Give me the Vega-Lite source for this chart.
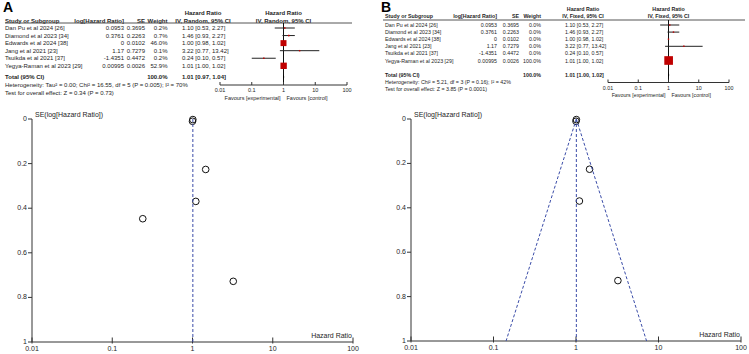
{
"$schema": "https://vega.github.io/schema/vega-lite/v6.json",
"width": 749, "height": 354, "autosize": {"type": "none"}, "padding": 0, "background": "#ffffff",
"config": {
 "view": {"stroke": null},
 "font": "Liberation Sans",
 "text": {"font": "Liberation Sans", "fontSize": 6, "color": "#1e1e1e", "baseline": "middle"},
 "tick": {"color": "#333333", "thickness": 1, "opacity": 1}
},
"datasets": {
 "studies": [
  {"study": "Dan Pu et al 2024 [26]", "lhr": 0.0953, "se": 0.3695, "wA": "0.2%", "wB": "0.0%", "pA": 0.2, "pB": 0.0, "hr": 1.10, "lo": 0.53, "hi": 2.27, "ci": "1.10 [0.53, 2.27]"},
  {"study": "Diamond et al 2023 [34]", "lhr": 0.3761, "se": 0.2263, "wA": "0.7%", "wB": "0.0%", "pA": 0.7, "pB": 0.0, "hr": 1.46, "lo": 0.93, "hi": 2.27, "ci": "1.46 [0.93, 2.27]"},
  {"study": "Edwards et al 2024 [38]", "lhr": 0, "se": 0.0102, "wA": "46.0%", "wB": "0.0%", "pA": 46.0, "pB": 0.0, "hr": 1.00, "lo": 0.98, "hi": 1.02, "ci": "1.00 [0.98, 1.02]"},
  {"study": "Jang et al 2021 [23]", "lhr": 1.17, "se": 0.7279, "wA": "0.1%", "wB": "0.0%", "pA": 0.1, "pB": 0.0, "hr": 3.22, "lo": 0.77, "hi": 13.42, "ci": "3.22 [0.77, 13.42]"},
  {"study": "Tsuikda et al 2021 [37]", "lhr": -1.4351, "se": 0.4472, "wA": "0.2%", "wB": "0.0%", "pA": 0.2, "pB": 0.0, "hr": 0.24, "lo": 0.10, "hi": 0.57, "ci": "0.24 [0.10, 0.57]"},
  {"study": "Yegya-Raman et al  2023 [29]", "lhr": 0.00995, "se": 0.0026, "wA": "52.9%", "wB": "100.0%", "pA": 52.9, "pB": 100.0, "hr": 1.01, "lo": 1.00, "hi": 1.02, "ci": "1.01 [1.00, 1.02]"}
 ],
 "totals": [
  {"panel": "A", "label": "Total (95% CI)", "weight": "100.0%", "ci": "1.01 [0.97, 1.04]", "hr": 1.01, "lo": 0.97, "hi": 1.04},
  {"panel": "B", "label": "Total (95% CI)", "weight": "100.0%", "ci": "1.01 [1.00, 1.02]", "hr": 1.01, "lo": 1.00, "hi": 1.02}
 ],
 "notes": [
  {"panel": "A", "row": "het", "t": "Heterogeneity: Tau² = 0.00; Chi² = 16.55, df = 5 (P = 0.005); I² = 70%"},
  {"panel": "A", "row": "test", "t": "Test for overall effect: Z = 0.34 (P = 0.73)"},
  {"panel": "B", "row": "het", "t": "Heterogeneity: Chi² = 5.21, df = 3 (P = 0.16); I² = 42%"},
  {"panel": "B", "row": "test", "t": "Test for overall effect: Z = 3.85 (P = 0.0001)"}
 ],
 "pooled": [{"hr": 1.01, "se0": 0, "se1": 1}],
 "funnelB": [{"x0": 1.01, "y0": 0, "x1": 0.142, "y1": 1}, {"x0": 1.01, "y0": 0, "x1": 7.17, "y1": 1}],
 "frame": [{"x0": 0.01, "x1": 0.01, "y0": 0, "y1": 1}, {"x0": 0.01, "x1": 100, "y0": 1, "y1": 1}],
 "baseline": [{"x0": 0.01, "x1": 100, "y": 1}],
 "hrTicks": [{"v": 0.01}, {"v": 0.1}, {"v": 1}, {"v": 10}, {"v": 100}],
 "seTicks": [{"v": 0}, {"v": 0.2}, {"v": 0.4}, {"v": 0.6}, {"v": 0.8}, {"v": 1}]
},
"layer": [
 {"data": {"values": [{"t": "A", "r": "title"}]}, "mark": {"type": "text", "fontSize": 14, "fontWeight": "bold", "align": "left", "color": "#000000", "dy": 3},
  "encoding": {"text": {"field": "t", "type": "nominal"},
   "x": {"datum": "study", "type": "nominal", "bandPosition": 0, "scale": {"type": "band", "domain": ["study"], "range": [3, 80], "paddingInner": 0, "paddingOuter": 0}, "axis": null},
   "y": {"field": "r", "type": "nominal", "scale": {"type": "point", "domain": ["title", "h1", "h2"], "range": [4.5, 20.5], "padding": 0}, "axis": null}}},
 {"data": {"values": [{"t": "Study or Subgroup", "r": "h2"}]}, "mark": {"type": "text", "fontWeight": "bold", "align": "left"},
  "encoding": {"text": {"field": "t", "type": "nominal"},
   "x": {"datum": "study", "type": "nominal", "bandPosition": 0, "scale": {"type": "band", "domain": ["study"], "range": [5, 80], "paddingInner": 0, "paddingOuter": 0}, "axis": null},
   "y": {"field": "r", "type": "nominal", "scale": {"type": "point", "domain": ["title", "h1", "h2"], "range": [4.5, 20.5], "padding": 0}, "axis": null}}},
 {"data": {"values": [{"t": "log[Hazard Ratio]", "r": "h2"}]}, "mark": {"type": "text", "fontWeight": "bold", "align": "right"},
  "encoding": {"text": {"field": "t", "type": "nominal"},
   "x": {"datum": "lhr", "type": "nominal", "bandPosition": 1, "scale": {"type": "band", "domain": ["lhr"], "range": [80, 124], "paddingInner": 0, "paddingOuter": 0}, "axis": null},
   "y": {"field": "r", "type": "nominal", "scale": {"type": "point", "domain": ["title", "h1", "h2"], "range": [4.5, 20.5], "padding": 0}, "axis": null}}},
 {"data": {"values": [{"t": "SE", "r": "h2"}]}, "mark": {"type": "text", "fontWeight": "bold", "align": "right"},
  "encoding": {"text": {"field": "t", "type": "nominal"},
   "x": {"datum": "se", "type": "nominal", "bandPosition": 1, "scale": {"type": "band", "domain": ["se"], "range": [124, 145], "paddingInner": 0, "paddingOuter": 0}, "axis": null},
   "y": {"field": "r", "type": "nominal", "scale": {"type": "point", "domain": ["title", "h1", "h2"], "range": [4.5, 20.5], "padding": 0}, "axis": null}}},
 {"data": {"values": [{"t": "Weight", "r": "h2"}]}, "mark": {"type": "text", "fontWeight": "bold", "align": "right"},
  "encoding": {"text": {"field": "t", "type": "nominal"},
   "x": {"datum": "weight", "type": "nominal", "bandPosition": 1, "scale": {"type": "band", "domain": ["weight"], "range": [145, 167.5], "paddingInner": 0, "paddingOuter": 0}, "axis": null},
   "y": {"field": "r", "type": "nominal", "scale": {"type": "point", "domain": ["title", "h1", "h2"], "range": [4.5, 20.5], "padding": 0}, "axis": null}}},
 {"data": {"values": [{"t": "Hazard Ratio", "r": "h1"}, {"t": "IV, Random, 95% CI", "r": "h2"}]}, "mark": {"type": "text", "fontWeight": "bold", "align": "center"},
  "encoding": {"text": {"field": "t", "type": "nominal"},
   "x": {"datum": "ci", "type": "nominal", "bandPosition": 0.5, "scale": {"type": "band", "domain": ["ci"], "range": [182, 224], "paddingInner": 0, "paddingOuter": 0}, "axis": null},
   "y": {"field": "r", "type": "nominal", "scale": {"type": "point", "domain": ["title", "h1", "h2"], "range": [4.5, 20.5], "padding": 0}, "axis": null}}},
 {"data": {"values": [{"t": "Hazard Ratio", "r": "h1"}, {"t": "IV, Random, 95% CI", "r": "h2"}]}, "mark": {"type": "text", "fontWeight": "bold", "align": "center"},
  "encoding": {"text": {"field": "t", "type": "nominal"},
   "x": {"datum": 1, "type": "quantitative", "scale": {"type": "log", "domain": [0.01, 100], "range": [220, 347], "nice": false}, "axis": null},
   "y": {"field": "r", "type": "nominal", "scale": {"type": "point", "domain": ["title", "h1", "h2"], "range": [4.5, 20.5], "padding": 0}, "axis": null}}},
 {"data": {"name": "studies"}, "mark": {"type": "text", "align": "left"},
  "encoding": {"text": {"field": "study", "type": "nominal"},
   "x": {"datum": "study", "type": "nominal", "bandPosition": 0, "scale": {"type": "band", "domain": ["study"], "range": [5, 80], "paddingInner": 0, "paddingOuter": 0}, "axis": null},
   "y": {"field": "study", "type": "nominal", "scale": {"type": "point", "domain": ["Dan Pu et al 2024 [26]", "Diamond et al 2023 [34]", "Edwards et al 2024 [38]", "Jang et al 2021 [23]", "Tsuikda et al 2021 [37]", "Yegya-Raman et al  2023 [29]"], "range": [28, 65.8], "padding": 0}, "axis": null}}},
 {"data": {"name": "studies"}, "mark": {"type": "text", "align": "right"},
  "encoding": {"text": {"field": "lhr", "type": "nominal"},
   "x": {"datum": "lhr", "type": "nominal", "bandPosition": 1, "scale": {"type": "band", "domain": ["lhr"], "range": [80, 124], "paddingInner": 0, "paddingOuter": 0}, "axis": null},
   "y": {"field": "study", "type": "nominal", "scale": {"type": "point", "domain": ["Dan Pu et al 2024 [26]", "Diamond et al 2023 [34]", "Edwards et al 2024 [38]", "Jang et al 2021 [23]", "Tsuikda et al 2021 [37]", "Yegya-Raman et al  2023 [29]"], "range": [28, 65.8], "padding": 0}, "axis": null}}},
 {"data": {"name": "studies"}, "mark": {"type": "text", "align": "right"},
  "encoding": {"text": {"field": "se", "type": "nominal"},
   "x": {"datum": "se", "type": "nominal", "bandPosition": 1, "scale": {"type": "band", "domain": ["se"], "range": [124, 145], "paddingInner": 0, "paddingOuter": 0}, "axis": null},
   "y": {"field": "study", "type": "nominal", "scale": {"type": "point", "domain": ["Dan Pu et al 2024 [26]", "Diamond et al 2023 [34]", "Edwards et al 2024 [38]", "Jang et al 2021 [23]", "Tsuikda et al 2021 [37]", "Yegya-Raman et al  2023 [29]"], "range": [28, 65.8], "padding": 0}, "axis": null}}},
 {"data": {"name": "studies"}, "mark": {"type": "text", "align": "right"},
  "encoding": {"text": {"field": "wA", "type": "nominal"},
   "x": {"datum": "weight", "type": "nominal", "bandPosition": 1, "scale": {"type": "band", "domain": ["weight"], "range": [145, 167.5], "paddingInner": 0, "paddingOuter": 0}, "axis": null},
   "y": {"field": "study", "type": "nominal", "scale": {"type": "point", "domain": ["Dan Pu et al 2024 [26]", "Diamond et al 2023 [34]", "Edwards et al 2024 [38]", "Jang et al 2021 [23]", "Tsuikda et al 2021 [37]", "Yegya-Raman et al  2023 [29]"], "range": [28, 65.8], "padding": 0}, "axis": null}}},
 {"data": {"name": "studies"}, "mark": {"type": "text", "align": "left"},
  "encoding": {"text": {"field": "ci", "type": "nominal"},
   "x": {"datum": "ci", "type": "nominal", "bandPosition": 0, "scale": {"type": "band", "domain": ["ci"], "range": [182, 224], "paddingInner": 0, "paddingOuter": 0}, "axis": null},
   "y": {"field": "study", "type": "nominal", "scale": {"type": "point", "domain": ["Dan Pu et al 2024 [26]", "Diamond et al 2023 [34]", "Edwards et al 2024 [38]", "Jang et al 2021 [23]", "Tsuikda et al 2021 [37]", "Yegya-Raman et al  2023 [29]"], "range": [28, 65.8], "padding": 0}, "axis": null}}},
 {"data": {"name": "totals"}, "transform": [{"filter": "datum.panel === 'A'"}], "mark": {"type": "text", "fontWeight": "bold", "align": "left"},
  "encoding": {"text": {"field": "label", "type": "nominal"},
   "x": {"datum": "study", "type": "nominal", "bandPosition": 0, "scale": {"type": "band", "domain": ["study"], "range": [5, 80], "paddingInner": 0, "paddingOuter": 0}, "axis": null},
   "y": {"datum": "tot", "type": "nominal", "scale": {"type": "point", "domain": ["tot", "het", "test"], "range": [77, 93], "padding": 0}, "axis": null}}},
 {"data": {"name": "totals"}, "transform": [{"filter": "datum.panel === 'A'"}], "mark": {"type": "text", "fontWeight": "bold", "align": "right"},
  "encoding": {"text": {"field": "weight", "type": "nominal"},
   "x": {"datum": "weight", "type": "nominal", "bandPosition": 1, "scale": {"type": "band", "domain": ["weight"], "range": [145, 167.5], "paddingInner": 0, "paddingOuter": 0}, "axis": null},
   "y": {"datum": "tot", "type": "nominal", "scale": {"type": "point", "domain": ["tot", "het", "test"], "range": [77, 93], "padding": 0}, "axis": null}}},
 {"data": {"name": "totals"}, "transform": [{"filter": "datum.panel === 'A'"}], "mark": {"type": "text", "fontWeight": "bold", "align": "left"},
  "encoding": {"text": {"field": "ci", "type": "nominal"},
   "x": {"datum": "ci", "type": "nominal", "bandPosition": 0, "scale": {"type": "band", "domain": ["ci"], "range": [182, 224], "paddingInner": 0, "paddingOuter": 0}, "axis": null},
   "y": {"datum": "tot", "type": "nominal", "scale": {"type": "point", "domain": ["tot", "het", "test"], "range": [77, 93], "padding": 0}, "axis": null}}},
 {"data": {"name": "notes"}, "transform": [{"filter": "datum.panel === 'A'"}], "mark": {"type": "text", "align": "left"},
  "encoding": {"text": {"field": "t", "type": "nominal"},
   "x": {"datum": "study", "type": "nominal", "bandPosition": 0, "scale": {"type": "band", "domain": ["study"], "range": [5, 80], "paddingInner": 0, "paddingOuter": 0}, "axis": null},
   "y": {"field": "row", "type": "nominal", "scale": {"type": "point", "domain": ["tot", "het", "test"], "range": [77, 93], "padding": 0}, "axis": null}}},
 {"data": {"values": [{"a": 0, "b": 1}]}, "mark": {"type": "rule", "color": "#555555", "strokeWidth": 1},
  "encoding": {"x": {"field": "a", "type": "quantitative", "scale": {"domain": [0, 1], "range": [5, 352], "nice": false, "zero": false}, "axis": null}, "x2": {"field": "b"},
   "y": {"field": "a", "type": "quantitative", "scale": {"domain": [0, 1], "range": [23, 85], "nice": false, "zero": false}, "axis": null}}},
 {"data": {"values": [{"hr": 1, "a": 0, "b": 1}]}, "mark": {"type": "rule", "color": "#111111", "strokeWidth": 1},
  "encoding": {"x": {"field": "hr", "type": "quantitative", "scale": {"type": "log", "domain": [0.01, 100], "range": [220, 347], "nice": false}, "axis": null},
   "y": {"field": "a", "type": "quantitative", "scale": {"domain": [0, 1], "range": [23, 85], "nice": false, "zero": false}, "axis": null}, "y2": {"field": "b"}}},
 {"data": {"name": "baseline"}, "mark": {"type": "rule", "color": "#333333", "strokeWidth": 1},
  "encoding": {"x": {"field": "x0", "type": "quantitative", "scale": {"type": "log", "domain": [0.01, 100], "range": [220, 347], "nice": false}, "axis": null}, "x2": {"field": "x1"},
   "y": {"field": "y", "type": "quantitative", "scale": {"domain": [0, 1], "range": [23, 85], "nice": false, "zero": false}, "axis": null}}},
 {"data": {"name": "hrTicks"}, "mark": {"type": "tick", "orient": "vertical", "size": 3, "yOffset": -1.5},
  "encoding": {"x": {"field": "v", "type": "quantitative", "scale": {"type": "log", "domain": [0.01, 100], "range": [220, 347], "nice": false}, "axis": null},
   "y": {"datum": 1, "type": "quantitative", "scale": {"domain": [0, 1], "range": [23, 85], "nice": false, "zero": false}, "axis": null}}},
 {"data": {"name": "hrTicks"}, "mark": {"type": "text", "align": "center", "dy": 5, "fontSize": 5.5},
  "encoding": {"text": {"field": "v", "type": "quantitative", "format": "~g"},
   "x": {"field": "v", "type": "quantitative", "scale": {"type": "log", "domain": [0.01, 100], "range": [220, 347], "nice": false}, "axis": null},
   "y": {"datum": 1, "type": "quantitative", "scale": {"domain": [0, 1], "range": [23, 85], "nice": false, "zero": false}, "axis": null}}},
 {"data": {"name": "studies"}, "mark": {"type": "rule", "color": "#222222", "strokeWidth": 1},
  "encoding": {"x": {"field": "lo", "type": "quantitative", "scale": {"type": "log", "domain": [0.01, 100], "range": [220, 347], "nice": false}, "axis": null}, "x2": {"field": "hi"},
   "y": {"field": "study", "type": "nominal", "scale": {"type": "point", "domain": ["Dan Pu et al 2024 [26]", "Diamond et al 2023 [34]", "Edwards et al 2024 [38]", "Jang et al 2021 [23]", "Tsuikda et al 2021 [37]", "Yegya-Raman et al  2023 [29]"], "range": [28, 65.8], "padding": 0}, "axis": null}}},
 {"data": {"name": "studies"}, "mark": {"type": "point", "shape": "square", "filled": true, "color": "#c00000", "opacity": 1},
  "encoding": {"x": {"field": "hr", "type": "quantitative", "scale": {"type": "log", "domain": [0.01, 100], "range": [220, 347], "nice": false}, "axis": null},
   "y": {"field": "study", "type": "nominal", "scale": {"type": "point", "domain": ["Dan Pu et al 2024 [26]", "Diamond et al 2023 [34]", "Edwards et al 2024 [38]", "Jang et al 2021 [23]", "Tsuikda et al 2021 [37]", "Yegya-Raman et al  2023 [29]"], "range": [28, 65.8], "padding": 0}, "axis": null},
   "size": {"field": "pA", "type": "quantitative", "scale": {"domain": [0, 100], "range": [2, 75], "zero": false}, "legend": null}}},
 {"data": {"name": "totals"}, "transform": [{"filter": "datum.panel === 'A'"}], "mark": {"type": "point", "shape": "M0,-1L0.18,0L0,1L-0.18,0Z", "filled": true, "color": "#000000", "size": 36, "opacity": 1},
  "encoding": {"x": {"field": "hr", "type": "quantitative", "scale": {"type": "log", "domain": [0.01, 100], "range": [220, 347], "nice": false}, "axis": null},
   "y": {"datum": "tot", "type": "nominal", "scale": {"type": "point", "domain": ["tot", "het", "test"], "range": [77, 93], "padding": 0}, "axis": null}}},
 {"data": {"values": [{"hr": 1, "t": "Favours [experimental]"}]}, "mark": {"type": "text", "align": "right", "dx": -3, "dy": 12.5, "fontSize": 5.5},
  "encoding": {"text": {"field": "t", "type": "nominal"}, "x": {"field": "hr", "type": "quantitative", "scale": {"type": "log", "domain": [0.01, 100], "range": [220, 347], "nice": false}, "axis": null},
   "y": {"datum": 1, "type": "quantitative", "scale": {"domain": [0, 1], "range": [23, 85], "nice": false, "zero": false}, "axis": null}}},
 {"data": {"values": [{"hr": 1, "t": "Favours [control]"}]}, "mark": {"type": "text", "align": "left", "dx": 3, "dy": 12.5, "fontSize": 5.5},
  "encoding": {"text": {"field": "t", "type": "nominal"}, "x": {"field": "hr", "type": "quantitative", "scale": {"type": "log", "domain": [0.01, 100], "range": [220, 347], "nice": false}, "axis": null},
   "y": {"datum": 1, "type": "quantitative", "scale": {"domain": [0, 1], "range": [23, 85], "nice": false, "zero": false}, "axis": null}}},
 {"data": {"name": "studies"}, "mark": {"type": "point", "shape": "circle", "filled": false, "size": 44, "strokeWidth": 1, "color": "#111111", "opacity": 1},
  "encoding": {"x": {"field": "hr", "type": "quantitative", "scale": {"type": "log", "domain": [0.01, 100], "range": [32, 353], "nice": false}, "axis": null},
   "y": {"field": "se", "type": "quantitative", "scale": {"domain": [0, 1], "range": [119, 342], "nice": false, "zero": false}, "axis": null}}},
 {"data": {"name": "frame"}, "mark": {"type": "rule", "color": "#333333", "strokeWidth": 1},
  "encoding": {"x": {"field": "x0", "type": "quantitative", "scale": {"type": "log", "domain": [0.01, 100], "range": [32, 353], "nice": false}, "axis": null}, "x2": {"field": "x1"},
   "y": {"field": "y0", "type": "quantitative", "scale": {"domain": [0, 1], "range": [119, 342], "nice": false, "zero": false}, "axis": null}, "y2": {"field": "y1"}}},
 {"data": {"name": "hrTicks"}, "mark": {"type": "tick", "orient": "vertical", "size": 6, "yOffset": -1.5},
  "encoding": {"x": {"field": "v", "type": "quantitative", "scale": {"type": "log", "domain": [0.01, 100], "range": [32, 353], "nice": false}, "axis": null},
   "y": {"datum": 1, "type": "quantitative", "scale": {"domain": [0, 1], "range": [119, 342], "nice": false, "zero": false}, "axis": null}}},
 {"data": {"name": "hrTicks"}, "mark": {"type": "text", "align": "center", "dy": 6.5, "fontSize": 7},
  "encoding": {"text": {"field": "v", "type": "quantitative", "format": "~g"},
   "x": {"field": "v", "type": "quantitative", "scale": {"type": "log", "domain": [0.01, 100], "range": [32, 353], "nice": false}, "axis": null},
   "y": {"datum": 1, "type": "quantitative", "scale": {"domain": [0, 1], "range": [119, 342], "nice": false, "zero": false}, "axis": null}}},
 {"data": {"name": "seTicks"}, "mark": {"type": "tick", "orient": "horizontal", "size": 4, "xOffset": -2},
  "encoding": {"x": {"datum": 0.01, "type": "quantitative", "scale": {"type": "log", "domain": [0.01, 100], "range": [32, 353], "nice": false}, "axis": null},
   "y": {"field": "v", "type": "quantitative", "scale": {"domain": [0, 1], "range": [119, 342], "nice": false, "zero": false}, "axis": null}}},
 {"data": {"name": "seTicks"}, "mark": {"type": "text", "align": "right", "dx": -5, "fontSize": 7},
  "encoding": {"text": {"field": "v", "type": "quantitative", "format": "~g"},
   "x": {"datum": 0.01, "type": "quantitative", "scale": {"type": "log", "domain": [0.01, 100], "range": [32, 353], "nice": false}, "axis": null},
   "y": {"field": "v", "type": "quantitative", "scale": {"domain": [0, 1], "range": [119, 342], "nice": false, "zero": false}, "axis": null}}},
 {"data": {"name": "pooled"}, "mark": {"type": "rule", "color": "#3a4ca8", "strokeDash": [3, 2], "strokeWidth": 1},
  "encoding": {"x": {"field": "hr", "type": "quantitative", "scale": {"type": "log", "domain": [0.01, 100], "range": [32, 353], "nice": false}, "axis": null},
   "y": {"field": "se0", "type": "quantitative", "scale": {"domain": [0, 1], "range": [119, 342], "nice": false, "zero": false}, "axis": null}, "y2": {"field": "se1"}}},
 {"data": {"values": [{"x": 0.01, "y": 0, "t": "SE(log[Hazard Ratio])"}]}, "mark": {"type": "text", "align": "left", "dx": 3, "dy": -4, "fontSize": 7},
  "encoding": {"text": {"field": "t", "type": "nominal"}, "x": {"field": "x", "type": "quantitative", "scale": {"type": "log", "domain": [0.01, 100], "range": [32, 353], "nice": false}, "axis": null},
   "y": {"field": "y", "type": "quantitative", "scale": {"domain": [0, 1], "range": [119, 342], "nice": false, "zero": false}, "axis": null}}},
 {"data": {"values": [{"x": 100, "y": 1, "t": "Hazard Ratio"}]}, "mark": {"type": "text", "align": "right", "dx": -1, "dy": -6, "fontSize": 7},
  "encoding": {"text": {"field": "t", "type": "nominal"}, "x": {"field": "x", "type": "quantitative", "scale": {"type": "log", "domain": [0.01, 100], "range": [32, 353], "nice": false}, "axis": null},
   "y": {"field": "y", "type": "quantitative", "scale": {"domain": [0, 1], "range": [119, 342], "nice": false, "zero": false}, "axis": null}}},

 {"data": {"values": [{"t": "B", "r": "title"}]}, "mark": {"type": "text", "fontSize": 14, "fontWeight": "bold", "align": "left", "color": "#000000", "dy": 6},
  "encoding": {"text": {"field": "t", "type": "nominal"},
   "x": {"datum": "study", "type": "nominal", "bandPosition": 0, "scale": {"type": "band", "domain": ["study"], "range": [381, 460], "paddingInner": 0, "paddingOuter": 0}, "axis": null},
   "y": {"field": "r", "type": "nominal", "scale": {"type": "point", "domain": ["title", "h1", "h2"], "range": [1.5, 15.5], "padding": 0}, "axis": null}}},
 {"data": {"values": [{"t": "Study or Subgroup", "r": "h2"}]}, "mark": {"type": "text", "fontWeight": "bold", "align": "left", "fontSize": 5.3},
  "encoding": {"text": {"field": "t", "type": "nominal"},
   "x": {"datum": "study", "type": "nominal", "bandPosition": 0, "scale": {"type": "band", "domain": ["study"], "range": [385, 460], "paddingInner": 0, "paddingOuter": 0}, "axis": null},
   "y": {"field": "r", "type": "nominal", "scale": {"type": "point", "domain": ["title", "h1", "h2"], "range": [1.5, 15.5], "padding": 0}, "axis": null}}},
 {"data": {"values": [{"t": "log[Hazard Ratio]", "r": "h2"}]}, "mark": {"type": "text", "fontWeight": "bold", "align": "right", "fontSize": 5.3},
  "encoding": {"text": {"field": "t", "type": "nominal"},
   "x": {"datum": "lhr", "type": "nominal", "bandPosition": 1, "scale": {"type": "band", "domain": ["lhr"], "range": [460, 497], "paddingInner": 0, "paddingOuter": 0}, "axis": null},
   "y": {"field": "r", "type": "nominal", "scale": {"type": "point", "domain": ["title", "h1", "h2"], "range": [1.5, 15.5], "padding": 0}, "axis": null}}},
 {"data": {"values": [{"t": "SE", "r": "h2"}]}, "mark": {"type": "text", "fontWeight": "bold", "align": "right", "fontSize": 5.3},
  "encoding": {"text": {"field": "t", "type": "nominal"},
   "x": {"datum": "se", "type": "nominal", "bandPosition": 1, "scale": {"type": "band", "domain": ["se"], "range": [497, 519], "paddingInner": 0, "paddingOuter": 0}, "axis": null},
   "y": {"field": "r", "type": "nominal", "scale": {"type": "point", "domain": ["title", "h1", "h2"], "range": [1.5, 15.5], "padding": 0}, "axis": null}}},
 {"data": {"values": [{"t": "Weight", "r": "h2"}]}, "mark": {"type": "text", "fontWeight": "bold", "align": "right", "fontSize": 5.3},
  "encoding": {"text": {"field": "t", "type": "nominal"},
   "x": {"datum": "weight", "type": "nominal", "bandPosition": 1, "scale": {"type": "band", "domain": ["weight"], "range": [519, 541], "paddingInner": 0, "paddingOuter": 0}, "axis": null},
   "y": {"field": "r", "type": "nominal", "scale": {"type": "point", "domain": ["title", "h1", "h2"], "range": [1.5, 15.5], "padding": 0}, "axis": null}}},
 {"data": {"values": [{"t": "Hazard Ratio", "r": "h1"}, {"t": "IV, Fixed, 95% CI", "r": "h2"}]}, "mark": {"type": "text", "fontWeight": "bold", "align": "center", "fontSize": 5.3},
  "encoding": {"text": {"field": "t", "type": "nominal"},
   "x": {"datum": "ci", "type": "nominal", "bandPosition": 0.5, "scale": {"type": "band", "domain": ["ci"], "range": [565, 601], "paddingInner": 0, "paddingOuter": 0}, "axis": null},
   "y": {"field": "r", "type": "nominal", "scale": {"type": "point", "domain": ["title", "h1", "h2"], "range": [1.5, 15.5], "padding": 0}, "axis": null}}},
 {"data": {"values": [{"t": "Hazard Ratio", "r": "h1"}, {"t": "IV, Fixed, 95% CI", "r": "h2"}]}, "mark": {"type": "text", "fontWeight": "bold", "align": "center", "fontSize": 5.3},
  "encoding": {"text": {"field": "t", "type": "nominal"},
   "x": {"datum": 1, "type": "quantitative", "scale": {"type": "log", "domain": [0.01, 100], "range": [608, 729], "nice": false}, "axis": null},
   "y": {"field": "r", "type": "nominal", "scale": {"type": "point", "domain": ["title", "h1", "h2"], "range": [1.5, 15.5], "padding": 0}, "axis": null}}},
 {"data": {"name": "studies"}, "mark": {"type": "text", "align": "left", "fontSize": 5.3},
  "encoding": {"text": {"field": "study", "type": "nominal"},
   "x": {"datum": "study", "type": "nominal", "bandPosition": 0, "scale": {"type": "band", "domain": ["study"], "range": [385, 460], "paddingInner": 0, "paddingOuter": 0}, "axis": null},
   "y": {"field": "study", "type": "nominal", "scale": {"type": "point", "domain": ["Dan Pu et al 2024 [26]", "Diamond et al 2023 [34]", "Edwards et al 2024 [38]", "Jang et al 2021 [23]", "Tsuikda et al 2021 [37]", "Yegya-Raman et al  2023 [29]"], "range": [25, 60.5], "padding": 0}, "axis": null}}},
 {"data": {"name": "studies"}, "mark": {"type": "text", "align": "right", "fontSize": 5.3},
  "encoding": {"text": {"field": "lhr", "type": "nominal"},
   "x": {"datum": "lhr", "type": "nominal", "bandPosition": 1, "scale": {"type": "band", "domain": ["lhr"], "range": [460, 497], "paddingInner": 0, "paddingOuter": 0}, "axis": null},
   "y": {"field": "study", "type": "nominal", "scale": {"type": "point", "domain": ["Dan Pu et al 2024 [26]", "Diamond et al 2023 [34]", "Edwards et al 2024 [38]", "Jang et al 2021 [23]", "Tsuikda et al 2021 [37]", "Yegya-Raman et al  2023 [29]"], "range": [25, 60.5], "padding": 0}, "axis": null}}},
 {"data": {"name": "studies"}, "mark": {"type": "text", "align": "right", "fontSize": 5.3},
  "encoding": {"text": {"field": "se", "type": "nominal"},
   "x": {"datum": "se", "type": "nominal", "bandPosition": 1, "scale": {"type": "band", "domain": ["se"], "range": [497, 519], "paddingInner": 0, "paddingOuter": 0}, "axis": null},
   "y": {"field": "study", "type": "nominal", "scale": {"type": "point", "domain": ["Dan Pu et al 2024 [26]", "Diamond et al 2023 [34]", "Edwards et al 2024 [38]", "Jang et al 2021 [23]", "Tsuikda et al 2021 [37]", "Yegya-Raman et al  2023 [29]"], "range": [25, 60.5], "padding": 0}, "axis": null}}},
 {"data": {"name": "studies"}, "mark": {"type": "text", "align": "right", "fontSize": 5.3},
  "encoding": {"text": {"field": "wB", "type": "nominal"},
   "x": {"datum": "weight", "type": "nominal", "bandPosition": 1, "scale": {"type": "band", "domain": ["weight"], "range": [519, 541], "paddingInner": 0, "paddingOuter": 0}, "axis": null},
   "y": {"field": "study", "type": "nominal", "scale": {"type": "point", "domain": ["Dan Pu et al 2024 [26]", "Diamond et al 2023 [34]", "Edwards et al 2024 [38]", "Jang et al 2021 [23]", "Tsuikda et al 2021 [37]", "Yegya-Raman et al  2023 [29]"], "range": [25, 60.5], "padding": 0}, "axis": null}}},
 {"data": {"name": "studies"}, "mark": {"type": "text", "align": "left", "fontSize": 5.3},
  "encoding": {"text": {"field": "ci", "type": "nominal"},
   "x": {"datum": "ci", "type": "nominal", "bandPosition": 0, "scale": {"type": "band", "domain": ["ci"], "range": [565, 601], "paddingInner": 0, "paddingOuter": 0}, "axis": null},
   "y": {"field": "study", "type": "nominal", "scale": {"type": "point", "domain": ["Dan Pu et al 2024 [26]", "Diamond et al 2023 [34]", "Edwards et al 2024 [38]", "Jang et al 2021 [23]", "Tsuikda et al 2021 [37]", "Yegya-Raman et al  2023 [29]"], "range": [25, 60.5], "padding": 0}, "axis": null}}},
 {"data": {"name": "totals"}, "transform": [{"filter": "datum.panel === 'B'"}], "mark": {"type": "text", "fontWeight": "bold", "align": "left", "fontSize": 5.3},
  "encoding": {"text": {"field": "label", "type": "nominal"},
   "x": {"datum": "study", "type": "nominal", "bandPosition": 0, "scale": {"type": "band", "domain": ["study"], "range": [385, 460], "paddingInner": 0, "paddingOuter": 0}, "axis": null},
   "y": {"datum": "tot", "type": "nominal", "scale": {"type": "point", "domain": ["tot", "het", "test"], "range": [75, 89], "padding": 0}, "axis": null}}},
 {"data": {"name": "totals"}, "transform": [{"filter": "datum.panel === 'B'"}], "mark": {"type": "text", "fontWeight": "bold", "align": "right", "fontSize": 5.3},
  "encoding": {"text": {"field": "weight", "type": "nominal"},
   "x": {"datum": "weight", "type": "nominal", "bandPosition": 1, "scale": {"type": "band", "domain": ["weight"], "range": [519, 541], "paddingInner": 0, "paddingOuter": 0}, "axis": null},
   "y": {"datum": "tot", "type": "nominal", "scale": {"type": "point", "domain": ["tot", "het", "test"], "range": [75, 89], "padding": 0}, "axis": null}}},
 {"data": {"name": "totals"}, "transform": [{"filter": "datum.panel === 'B'"}], "mark": {"type": "text", "fontWeight": "bold", "align": "left", "fontSize": 5.3},
  "encoding": {"text": {"field": "ci", "type": "nominal"},
   "x": {"datum": "ci", "type": "nominal", "bandPosition": 0, "scale": {"type": "band", "domain": ["ci"], "range": [565, 601], "paddingInner": 0, "paddingOuter": 0}, "axis": null},
   "y": {"datum": "tot", "type": "nominal", "scale": {"type": "point", "domain": ["tot", "het", "test"], "range": [75, 89], "padding": 0}, "axis": null}}},
 {"data": {"name": "notes"}, "transform": [{"filter": "datum.panel === 'B'"}], "mark": {"type": "text", "align": "left", "fontSize": 5.3},
  "encoding": {"text": {"field": "t", "type": "nominal"},
   "x": {"datum": "study", "type": "nominal", "bandPosition": 0, "scale": {"type": "band", "domain": ["study"], "range": [385, 460], "paddingInner": 0, "paddingOuter": 0}, "axis": null},
   "y": {"field": "row", "type": "nominal", "scale": {"type": "point", "domain": ["tot", "het", "test"], "range": [75, 89], "padding": 0}, "axis": null}}},
 {"data": {"values": [{"a": 0, "b": 1}]}, "mark": {"type": "rule", "color": "#555555", "strokeWidth": 1},
  "encoding": {"x": {"field": "a", "type": "quantitative", "scale": {"domain": [0, 1], "range": [383, 745], "nice": false, "zero": false}, "axis": null}, "x2": {"field": "b"},
   "y": {"field": "a", "type": "quantitative", "scale": {"domain": [0, 1], "range": [20, 82.5], "nice": false, "zero": false}, "axis": null}}},
 {"data": {"values": [{"hr": 1, "a": 0, "b": 1}]}, "mark": {"type": "rule", "color": "#111111", "strokeWidth": 1},
  "encoding": {"x": {"field": "hr", "type": "quantitative", "scale": {"type": "log", "domain": [0.01, 100], "range": [608, 729], "nice": false}, "axis": null},
   "y": {"field": "a", "type": "quantitative", "scale": {"domain": [0, 1], "range": [20, 82.5], "nice": false, "zero": false}, "axis": null}, "y2": {"field": "b"}}},
 {"data": {"name": "baseline"}, "mark": {"type": "rule", "color": "#333333", "strokeWidth": 1},
  "encoding": {"x": {"field": "x0", "type": "quantitative", "scale": {"type": "log", "domain": [0.01, 100], "range": [608, 729], "nice": false}, "axis": null}, "x2": {"field": "x1"},
   "y": {"field": "y", "type": "quantitative", "scale": {"domain": [0, 1], "range": [20, 82.5], "nice": false, "zero": false}, "axis": null}}},
 {"data": {"name": "hrTicks"}, "mark": {"type": "tick", "orient": "vertical", "size": 3, "yOffset": -1.5},
  "encoding": {"x": {"field": "v", "type": "quantitative", "scale": {"type": "log", "domain": [0.01, 100], "range": [608, 729], "nice": false}, "axis": null},
   "y": {"datum": 1, "type": "quantitative", "scale": {"domain": [0, 1], "range": [20, 82.5], "nice": false, "zero": false}, "axis": null}}},
 {"data": {"name": "hrTicks"}, "mark": {"type": "text", "align": "center", "dy": 5, "fontSize": 5.3},
  "encoding": {"text": {"field": "v", "type": "quantitative", "format": "~g"},
   "x": {"field": "v", "type": "quantitative", "scale": {"type": "log", "domain": [0.01, 100], "range": [608, 729], "nice": false}, "axis": null},
   "y": {"datum": 1, "type": "quantitative", "scale": {"domain": [0, 1], "range": [20, 82.5], "nice": false, "zero": false}, "axis": null}}},
 {"data": {"name": "studies"}, "transform": [{"filter": "datum.study !== 'Tsuikda et al 2021 [37]'"}], "mark": {"type": "rule", "color": "#222222", "strokeWidth": 1},
  "encoding": {"x": {"field": "lo", "type": "quantitative", "scale": {"type": "log", "domain": [0.01, 100], "range": [608, 729], "nice": false}, "axis": null}, "x2": {"field": "hi"},
   "y": {"field": "study", "type": "nominal", "scale": {"type": "point", "domain": ["Dan Pu et al 2024 [26]", "Diamond et al 2023 [34]", "Edwards et al 2024 [38]", "Jang et al 2021 [23]", "Tsuikda et al 2021 [37]", "Yegya-Raman et al  2023 [29]"], "range": [25, 60.5], "padding": 0}, "axis": null}}},
 {"data": {"name": "studies"}, "transform": [{"filter": "datum.study !== 'Tsuikda et al 2021 [37]'"}], "mark": {"type": "point", "shape": "square", "filled": true, "color": "#c00000", "opacity": 1},
  "encoding": {"x": {"field": "hr", "type": "quantitative", "scale": {"type": "log", "domain": [0.01, 100], "range": [608, 729], "nice": false}, "axis": null},
   "y": {"field": "study", "type": "nominal", "scale": {"type": "point", "domain": ["Dan Pu et al 2024 [26]", "Diamond et al 2023 [34]", "Edwards et al 2024 [38]", "Jang et al 2021 [23]", "Tsuikda et al 2021 [37]", "Yegya-Raman et al  2023 [29]"], "range": [25, 60.5], "padding": 0}, "axis": null},
   "size": {"field": "pB", "type": "quantitative", "scale": {"domain": [0, 100], "range": [2, 75], "zero": false}, "legend": null}}},
 {"data": {"name": "totals"}, "transform": [{"filter": "datum.panel === 'B'"}], "mark": {"type": "point", "shape": "M0,-1L0.18,0L0,1L-0.18,0Z", "filled": true, "color": "#000000", "size": 36, "opacity": 1},
  "encoding": {"x": {"field": "hr", "type": "quantitative", "scale": {"type": "log", "domain": [0.01, 100], "range": [608, 729], "nice": false}, "axis": null},
   "y": {"datum": "tot", "type": "nominal", "scale": {"type": "point", "domain": ["tot", "het", "test"], "range": [75, 89], "padding": 0}, "axis": null}}},
 {"data": {"values": [{"hr": 1, "t": "Favours [experimental]"}]}, "mark": {"type": "text", "align": "right", "dx": -3, "dy": 12, "fontSize": 5.3},
  "encoding": {"text": {"field": "t", "type": "nominal"}, "x": {"field": "hr", "type": "quantitative", "scale": {"type": "log", "domain": [0.01, 100], "range": [608, 729], "nice": false}, "axis": null},
   "y": {"datum": 1, "type": "quantitative", "scale": {"domain": [0, 1], "range": [20, 82.5], "nice": false, "zero": false}, "axis": null}}},
 {"data": {"values": [{"hr": 1, "t": "Favours [control]"}]}, "mark": {"type": "text", "align": "left", "dx": 3, "dy": 12, "fontSize": 5.3},
  "encoding": {"text": {"field": "t", "type": "nominal"}, "x": {"field": "hr", "type": "quantitative", "scale": {"type": "log", "domain": [0.01, 100], "range": [608, 729], "nice": false}, "axis": null},
   "y": {"datum": 1, "type": "quantitative", "scale": {"domain": [0, 1], "range": [20, 82.5], "nice": false, "zero": false}, "axis": null}}},
 {"data": {"name": "studies"}, "transform": [{"filter": "datum.study !== 'Tsuikda et al 2021 [37]'"}], "mark": {"type": "point", "shape": "circle", "filled": false, "size": 44, "strokeWidth": 1, "color": "#111111", "opacity": 1},
  "encoding": {"x": {"field": "hr", "type": "quantitative", "scale": {"type": "log", "domain": [0.01, 100], "range": [411, 741], "nice": false}, "axis": null},
   "y": {"field": "se", "type": "quantitative", "scale": {"domain": [0, 1], "range": [119, 341], "nice": false, "zero": false}, "axis": null}}},
 {"data": {"name": "frame"}, "mark": {"type": "rule", "color": "#333333", "strokeWidth": 1},
  "encoding": {"x": {"field": "x0", "type": "quantitative", "scale": {"type": "log", "domain": [0.01, 100], "range": [411, 741], "nice": false}, "axis": null}, "x2": {"field": "x1"},
   "y": {"field": "y0", "type": "quantitative", "scale": {"domain": [0, 1], "range": [119, 341], "nice": false, "zero": false}, "axis": null}, "y2": {"field": "y1"}}},
 {"data": {"name": "hrTicks"}, "mark": {"type": "tick", "orient": "vertical", "size": 6, "yOffset": -1.5},
  "encoding": {"x": {"field": "v", "type": "quantitative", "scale": {"type": "log", "domain": [0.01, 100], "range": [411, 741], "nice": false}, "axis": null},
   "y": {"datum": 1, "type": "quantitative", "scale": {"domain": [0, 1], "range": [119, 341], "nice": false, "zero": false}, "axis": null}}},
 {"data": {"name": "hrTicks"}, "mark": {"type": "text", "align": "center", "dy": 6.5, "fontSize": 7},
  "encoding": {"text": {"field": "v", "type": "quantitative", "format": "~g"},
   "x": {"field": "v", "type": "quantitative", "scale": {"type": "log", "domain": [0.01, 100], "range": [411, 741], "nice": false}, "axis": null},
   "y": {"datum": 1, "type": "quantitative", "scale": {"domain": [0, 1], "range": [119, 341], "nice": false, "zero": false}, "axis": null}}},
 {"data": {"name": "seTicks"}, "mark": {"type": "tick", "orient": "horizontal", "size": 4, "xOffset": -2},
  "encoding": {"x": {"datum": 0.01, "type": "quantitative", "scale": {"type": "log", "domain": [0.01, 100], "range": [411, 741], "nice": false}, "axis": null},
   "y": {"field": "v", "type": "quantitative", "scale": {"domain": [0, 1], "range": [119, 341], "nice": false, "zero": false}, "axis": null}}},
 {"data": {"name": "seTicks"}, "mark": {"type": "text", "align": "right", "dx": -5, "fontSize": 7},
  "encoding": {"text": {"field": "v", "type": "quantitative", "format": "~g"},
   "x": {"datum": 0.01, "type": "quantitative", "scale": {"type": "log", "domain": [0.01, 100], "range": [411, 741], "nice": false}, "axis": null},
   "y": {"field": "v", "type": "quantitative", "scale": {"domain": [0, 1], "range": [119, 341], "nice": false, "zero": false}, "axis": null}}},
 {"data": {"name": "pooled"}, "mark": {"type": "rule", "color": "#3a4ca8", "strokeDash": [3, 2], "strokeWidth": 1},
  "encoding": {"x": {"field": "hr", "type": "quantitative", "scale": {"type": "log", "domain": [0.01, 100], "range": [411, 741], "nice": false}, "axis": null},
   "y": {"field": "se0", "type": "quantitative", "scale": {"domain": [0, 1], "range": [119, 341], "nice": false, "zero": false}, "axis": null}, "y2": {"field": "se1"}}},
 {"data": {"name": "funnelB"}, "mark": {"type": "rule", "color": "#3a4ca8", "strokeDash": [3, 2], "strokeWidth": 1},
  "encoding": {"x": {"field": "x0", "type": "quantitative", "scale": {"type": "log", "domain": [0.01, 100], "range": [411, 741], "nice": false}, "axis": null}, "x2": {"field": "x1"},
   "y": {"field": "y0", "type": "quantitative", "scale": {"domain": [0, 1], "range": [119, 341], "nice": false, "zero": false}, "axis": null}, "y2": {"field": "y1"}}},
 {"data": {"values": [{"x": 0.01, "y": 0, "t": "SE(log[Hazard Ratio])"}]}, "mark": {"type": "text", "align": "left", "dx": 3, "dy": -4, "fontSize": 7},
  "encoding": {"text": {"field": "t", "type": "nominal"}, "x": {"field": "x", "type": "quantitative", "scale": {"type": "log", "domain": [0.01, 100], "range": [411, 741], "nice": false}, "axis": null},
   "y": {"field": "y", "type": "quantitative", "scale": {"domain": [0, 1], "range": [119, 341], "nice": false, "zero": false}, "axis": null}}},
 {"data": {"values": [{"x": 100, "y": 1, "t": "Hazard Ratio"}]}, "mark": {"type": "text", "align": "right", "dx": -1, "dy": -6, "fontSize": 7},
  "encoding": {"text": {"field": "t", "type": "nominal"}, "x": {"field": "x", "type": "quantitative", "scale": {"type": "log", "domain": [0.01, 100], "range": [411, 741], "nice": false}, "axis": null},
   "y": {"field": "y", "type": "quantitative", "scale": {"domain": [0, 1], "range": [119, 341], "nice": false, "zero": false}, "axis": null}}}
],
"resolve": {"scale": {"x": "independent", "y": "independent", "size": "independent"}, "axis": {"x": "independent", "y": "independent"}}
}
